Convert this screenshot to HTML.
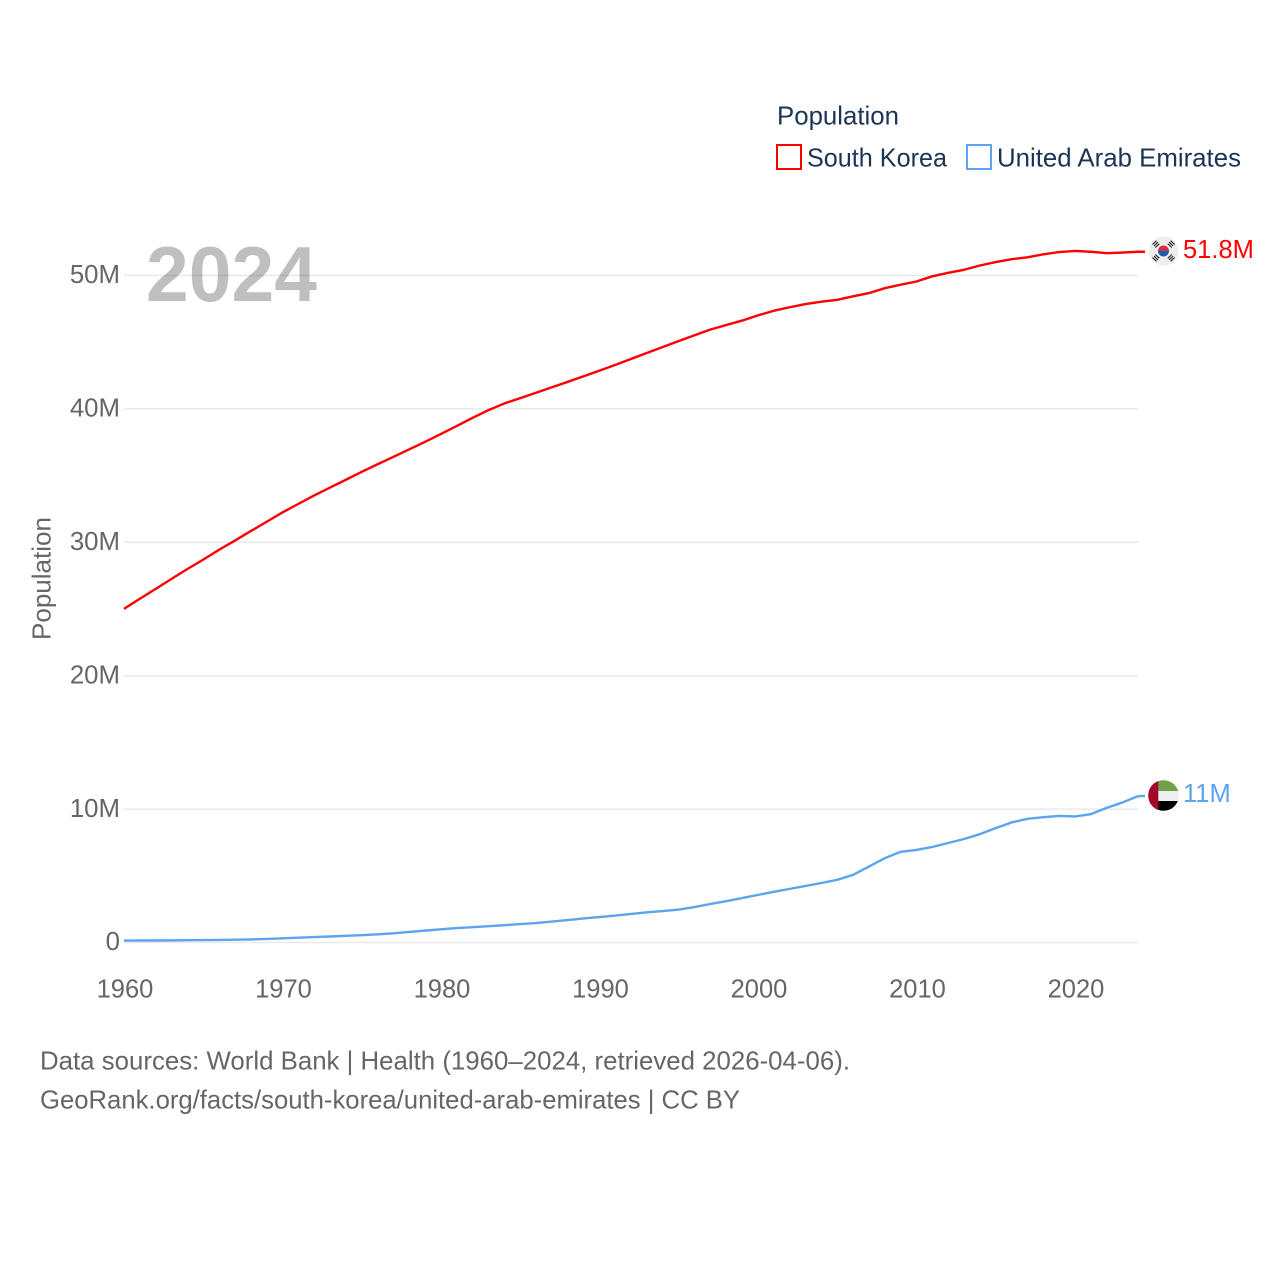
<!DOCTYPE html>
<html lang="en">
<head>
<meta charset="utf-8">
<title>South Korea and United Arab Emirates population</title>
<style>
html,body{margin:0;padding:0;background:#fff;width:1280px;height:1280px;overflow:hidden}
svg{display:block}
text{font-family:"Liberation Sans",sans-serif}
</style>
</head>
<body>
<svg id="chart" xmlns="http://www.w3.org/2000/svg" width="1280" height="1280" viewBox="0 0 1280 1280">
  <defs>
    <clipPath id="clip-kr"><circle cx="1163.5" cy="251" r="14.7"/></clipPath>
    <clipPath id="clip-ae"><circle cx="1163.5" cy="795.5" r="15.3"/></clipPath>
  </defs>
  <rect width="1280" height="1280" fill="#fff"/>
  <g id="grid"></g>
  <text x="146" y="301" font-size="78" font-weight="bold" fill="#000" fill-opacity="0.25" textLength="171" lengthAdjust="spacingAndGlyphs">2024</text>
  <g id="y-ticks"></g>
  <g id="x-ticks"></g>
  <text transform="translate(50.5,640) rotate(-90)" font-size="26" fill="#666" textLength="123" lengthAdjust="spacingAndGlyphs">Population</text>
  <g id="series"></g>

  <g>
    <text x="777" y="124.5" font-size="26" fill="#1c3557" textLength="122" lengthAdjust="spacingAndGlyphs">Population</text>
    <g>
      <rect x="777" y="145" width="24" height="24" fill="#fff" stroke="#ff0000" stroke-width="2"/>
      <text x="807" y="166.3" font-size="26" fill="#1c3557" textLength="140" lengthAdjust="spacingAndGlyphs">South Korea</text>
    </g>
    <g>
      <rect x="967" y="145" width="24" height="24" fill="#fff" stroke="#5ba4ee" stroke-width="2"/>
      <text x="997" y="166.3" font-size="26" fill="#1c3557" textLength="244" lengthAdjust="spacingAndGlyphs">United Arab Emirates</text>
    </g>
  </g>

  <g>
    <g clip-path="url(#clip-kr)">
      <rect x="1148" y="236" width="32" height="30" fill="#eeeeee"/>
      <path d="M1158 251 a5.500 5.500 0 0 1 11 0 z" fill="#d8303f"/>
      <path d="M1158 251 a5.500 5.500 0 0 0 11 0 z" fill="#1a5fb0"/>
      <g stroke="#222" stroke-width="1.100">
        <path d="M1152.500 244.500 l4 -3.800 M1153.900 246 l4 -3.800 M1155.300 247.500 l4 -3.800"/>
        <path d="M1167.800 243.700 l4 3.800 M1169.200 242.200 l4 3.800 M1170.600 240.700 l4 3.800"/>
        <path d="M1152.500 257.500 l4 3.800 M1153.900 256 l4 3.800 M1155.300 254.500 l4 3.800"/>
        <path d="M1167.800 258.300 l4 -3.800 M1169.200 259.800 l4 -3.800 M1170.600 261.300 l4 -3.800"/>
      </g>
    </g>
  </g>
  <g>
    <g clip-path="url(#clip-ae)">
      <rect x="1148" y="780" width="32" height="11" fill="#6ea14a"/>
      <rect x="1148" y="791" width="32" height="10" fill="#eeeeee"/>
      <rect x="1148" y="801" width="32" height="11" fill="#000000"/>
      <rect x="1148" y="780" width="10.300" height="32" fill="#a3082a"/>
    </g>
  </g>

  <text x="40" y="1069.3" font-size="26" fill="#666" textLength="810" lengthAdjust="spacingAndGlyphs">Data sources: World Bank | Health (1960–2024, retrieved 2026-04-06).</text>
  <text x="40" y="1108.3" font-size="26" fill="#666" textLength="700" lengthAdjust="spacingAndGlyphs">GeoRank.org/facts/south-korea/united-arab-emirates | CC BY</text>
</svg>
<script>
const firstYear = 1960;
const southKorea = [25.01,25.77,26.51,27.26,28.00,28.70,29.44,30.13,30.84,31.54,32.24,32.88,33.51,34.10,34.69,35.28,35.85,36.41,36.97,37.53,38.12,38.72,39.33,39.91,40.41,40.81,41.21,41.62,42.03,42.45,42.87,43.30,43.75,44.20,44.64,45.09,45.52,45.95,46.29,46.62,47.01,47.36,47.62,47.86,48.04,48.18,48.44,48.68,49.05,49.31,49.55,49.94,50.20,50.43,50.75,51.01,51.22,51.36,51.59,51.76,51.84,51.78,51.67,51.72,51.78];
const uae = [0.14,0.15,0.15,0.16,0.17,0.18,0.19,0.21,0.23,0.27,0.31,0.36,0.41,0.45,0.50,0.55,0.61,0.69,0.79,0.89,0.99,1.08,1.15,1.22,1.30,1.38,1.46,1.57,1.68,1.80,1.91,2.02,2.14,2.26,2.36,2.47,2.66,2.89,3.10,3.33,3.57,3.80,4.02,4.24,4.46,4.70,5.07,5.69,6.32,6.80,6.94,7.16,7.46,7.76,8.12,8.57,9.00,9.27,9.39,9.49,9.45,9.62,10.09,10.50,10.98];
const yTicks = [0,10,20,30,40,50];
const xTicks = [1960,1970,1980,1990,2000,2010,2020];
const lastYear = 2024;

const NS = 'http://www.w3.org/2000/svg';
function xScale(year){ return 124 + (year - 1960) * 15.85; }
function yScale(v){ return 942.5 - v * 13.34; }
function make(tag, attrs, parent, txt){
  const el = document.createElementNS(NS, tag);
  for (const k in attrs) el.setAttribute(k, attrs[k]);
  if (txt !== undefined) el.textContent = txt;
  parent.appendChild(el);
  return el;
}
const grid = document.getElementById('grid');
const yG = document.getElementById('y-ticks');
const xG = document.getElementById('x-ticks');
const sG = document.getElementById('series');

yTicks.forEach(function(t){
  const line = make('line', {x1:xScale(firstYear), x2:xScale(lastYear), y1:yScale(t), y2:yScale(t), stroke:'#e9e9e9', 'stroke-width':1.5}, grid);
  
  
  const label = make('text', {x:120, y:yScale(t)+7.7, 'text-anchor':'end', 'font-size':25.8, fill:'#666'}, yG, t === 0 ? '0' : t + 'M');
  
  
});
xTicks.forEach(function(y){
  const label = make('text', {x:xScale(y)+1, y:997.3, 'text-anchor':'middle', 'font-size':25.5, fill:'#666'}, xG, String(y));
  
  
});
function fmt(v){
  const s = v.toFixed(1);
  return (s.slice(-2) === '.0' ? s.slice(0, -2) : s) + 'M';
}
function drawSeries(values, color, name){
  const pts = values.map(function(v, i){ return [xScale(firstYear + i), yScale(v)]; });
  const last = pts[pts.length - 1];
  pts.push([1145, last[1]]);
  const d = pts.map(function(p, i){ return (i ? 'L' : 'M') + p[0].toFixed(2) + ' ' + p[1].toFixed(2); }).join('');
  const path = make('path', {d:d, fill:'none', stroke:color, 'stroke-width':2.4, 'stroke-linejoin':'round'}, sG);
  
  
  const label = make('text', {x:1183, y:last[1]+6, 'font-size':25.5, fill:color}, sG, fmt(values[values.length - 1]));
  
  
}
drawSeries(southKorea, '#ff0000', 'south-korea');
drawSeries(uae, '#5ba4ee', 'united-arab-emirates');
</script>
</body>
</html>
